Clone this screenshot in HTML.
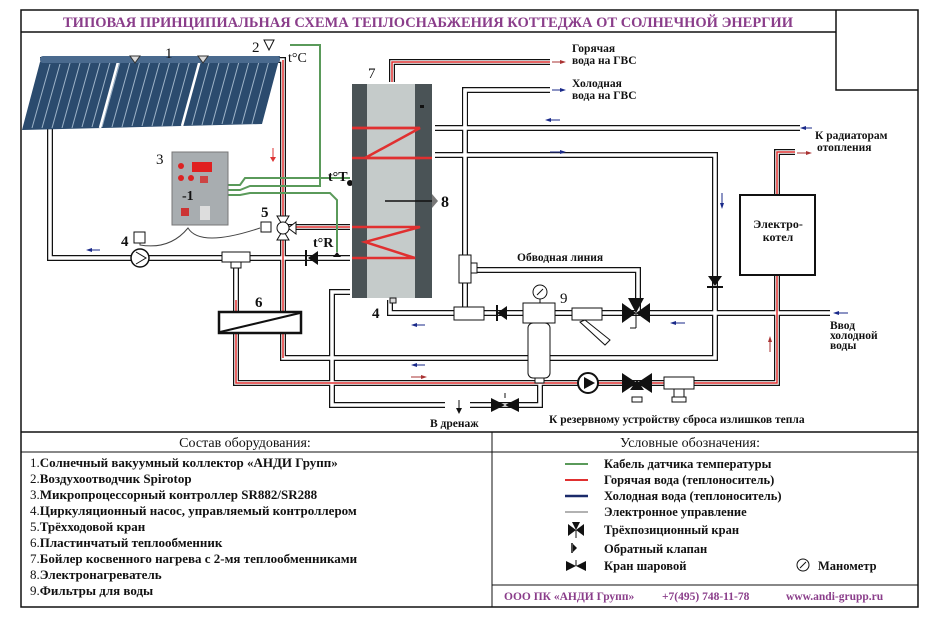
<!DOCTYPE html>
<html><head><meta charset="utf-8"><style>
body{margin:0;background:#fff}
svg{display:block}
text{font-family:"Liberation Serif",serif;fill:#111}
.po{fill:none;stroke:#111;stroke-width:6}
.pi{fill:none;stroke:#fff;stroke-width:3.5}
.ph{fill:none;stroke:#e03030;stroke-width:1.5}
.pc{fill:none;stroke:#1a2a8a;stroke-width:1}
.g{fill:none;stroke:#5a9a5a;stroke-width:2}
.b{font-weight:bold}
</style></head><body>
<svg width="933" height="620" viewBox="0 0 933 620" xmlns="http://www.w3.org/2000/svg">
<rect x="21" y="10" width="897" height="597" fill="none" stroke="#111" stroke-width="1.5"/>
<line x1="21" y1="32" x2="836" y2="32" stroke="#111" stroke-width="1.5"/>
<polyline points="836,10 836,90 918,90" fill="none" stroke="#111" stroke-width="1.5"/>
<text x="428" y="27" text-anchor="middle" font-size="14.5" font-weight="bold" style="fill:#8a3d8a" textLength="730" lengthAdjust="spacingAndGlyphs">ТИПОВАЯ ПРИНЦИПИАЛЬНАЯ СХЕМА ТЕПЛОСНАБЖЕНИЯ КОТТЕДЖА ОТ СОЛНЕЧНОЙ ЭНЕРГИИ</text>

<!-- pipes outer -->
<g class="po">
<polyline points="40,60 50,60 50,258 350,258"/>
<polyline points="270,60 283,60 283,358 715,358 715,155 435,155"/>
<polyline points="236,258 236,383 777,383 777,275"/>
<polyline points="777,195 777,152 795,152"/>
<polyline points="283,227 350,227"/>
<polyline points="392,82 392,62 550,62"/>
<polyline points="435,128 800,128"/>
<polyline points="465,128 465,90 550,90"/>
<polyline points="465,90 465,313 390,313 390,300"/>
<polyline points="465,270 638,270 638,313"/>
<polyline points="465,313 830,313"/>
<polyline points="350,292 332,292 332,405 445,405"/>
<polyline points="540,383 540,405 470,405"/>
</g>
<g class="pi">
<polyline points="40,60 50,60 50,258 350,258"/>
<polyline points="270,60 283,60 283,358 715,358 715,155 435,155"/>
<polyline points="236,258 236,383 777,383 777,275"/>
<polyline points="777,195 777,152 795,152"/>
<polyline points="283,227 350,227"/>
<polyline points="392,82 392,62 550,62"/>
<polyline points="435,128 800,128"/>
<polyline points="465,128 465,90 550,90"/>
<polyline points="465,90 465,313 390,313 390,300"/>
<polyline points="465,270 638,270 638,313"/>
<polyline points="465,313 830,313"/>
<polyline points="350,292 332,292 332,405 445,405"/>
<polyline points="540,383 540,405 470,405"/>
</g>
<g class="ph">
<polyline points="283,60 283,358"/>
<polyline points="236,300 236,383 777,383 777,275"/>
<polyline points="777,195 777,152 795,152"/>
<polyline points="283,227 350,227"/>
<polyline points="392,82 392,62 550,62"/>
</g>

<!-- collector -->
<g>
<polygon points="40,62 280,56 262,124 22,130" fill="#2b4b6e"/>
<g stroke="#9db3c8" stroke-width="1">
<line x1="50" y1="64" x2="32" y2="128"/><line x1="60" y1="64" x2="42" y2="128"/><line x1="70" y1="63" x2="52" y2="128"/><line x1="80" y1="63" x2="62" y2="128"/><line x1="90" y1="63" x2="72" y2="128"/><line x1="100" y1="63" x2="82" y2="127"/><line x1="110" y1="62" x2="92" y2="127"/><line x1="120" y1="62" x2="102" y2="127"/><line x1="130" y1="62" x2="112" y2="127"/><line x1="140" y1="61" x2="122" y2="127"/><line x1="150" y1="61" x2="132" y2="126"/><line x1="160" y1="61" x2="142" y2="126"/><line x1="170" y1="61" x2="152" y2="126"/><line x1="180" y1="60" x2="162" y2="126"/><line x1="190" y1="60" x2="172" y2="126"/><line x1="200" y1="60" x2="182" y2="125"/><line x1="210" y1="59" x2="192" y2="125"/><line x1="220" y1="59" x2="202" y2="125"/><line x1="230" y1="59" x2="212" y2="125"/><line x1="240" y1="58" x2="222" y2="124"/><line x1="250" y1="58" x2="232" y2="124"/><line x1="260" y1="58" x2="242" y2="124"/><line x1="270" y1="57" x2="252" y2="124"/>
</g>
<line x1="118" y1="62" x2="100" y2="128" stroke="#fff" stroke-width="2.5"/>
<line x1="200" y1="60" x2="182" y2="126" stroke="#fff" stroke-width="2.5"/>
<rect x="40" y="56" width="240" height="7" rx="3" fill="#4a6a8e"/>
<polygon points="130,56 140,56 135,63" fill="#ddd" stroke="#333"/>
<polygon points="198,56 208,56 203,63" fill="#ddd" stroke="#333"/>
</g>
<text x="165" y="58" font-size="15">1</text>
<text x="252" y="52" font-size="15">2</text>
<polygon points="264,40 274,40 269,50" fill="#fff" stroke="#111"/>
<text x="288" y="62" font-size="14">t°C</text>

<!-- green cables -->
<polyline class="g" points="228,185 240,185 245,178 350,178"/>
<polyline class="g" points="228,190 240,190 250,186 320,186 320,45 290,45"/>
<polyline class="g" points="228,195 240,195 250,193 330,193 337,200 337,252"/>

<!-- controller -->
<rect x="172" y="152" width="56" height="73" fill="#a8adb0" stroke="#777"/>
<rect x="192" y="162" width="20" height="10" fill="#e02020"/>
<circle cx="181" cy="166" r="3" fill="#d22"/><circle cx="181" cy="178" r="3" fill="#d22"/><circle cx="191" cy="178" r="3" fill="#d22"/>
<rect x="200" y="176" width="8" height="7" fill="#c44"/>
<text x="182" y="200" font-size="14" font-weight="bold">-1</text>
<rect x="181" y="208" width="8" height="8" fill="#c33"/>
<rect x="200" y="206" width="10" height="14" fill="#ddd"/>
<text x="156" y="164" font-size="15">3</text>
<path d="M140,236 L140,245 Q170,250 188,228 Q200,248 260,228" fill="none" stroke="#444"/>
<rect x="134" y="232" width="11" height="11" fill="#fff" stroke="#111"/>
<text x="121" y="246" font-size="15" class="b">4</text>
<circle cx="140" cy="258" r="9" fill="#fff" stroke="#111" stroke-width="1.5"/>
<polyline points="136,252 146,258 136,264" fill="none" stroke="#111"/>
<path d="M90,250 L100,250" stroke="#1a2a8a"/><polygon points="86,250 92,248 92,252" fill="#1a2a8a"/>

<!-- valve 5 -->
<rect x="261" y="222" width="10" height="10" fill="#fff" stroke="#111"/>
<polygon points="277,216 289,216 283,226" fill="#fff" stroke="#111"/>
<polygon points="277,240 289,240 283,230" fill="#fff" stroke="#111"/>
<polygon points="296,222 296,234 288,228" fill="#fff" stroke="#111"/>
<circle cx="283" cy="228" r="6" fill="#fff" stroke="#111"/>
<text x="261" y="217" font-size="15" class="b">5</text>
<line x1="273" y1="148" x2="273" y2="158" stroke="#d33"/><polygon points="270,157 276,157 273,162" fill="#d33"/>

<!-- T and exchanger -->
<rect x="222" y="252" width="28" height="10" fill="#fff" stroke="#111"/>
<rect x="231" y="262" width="10" height="6" fill="#fff" stroke="#111"/>
<polygon points="308,258 318,251 318,265" fill="#111"/><line x1="306" y1="250" x2="306" y2="266" stroke="#111" stroke-width="2"/>
<rect x="219" y="312" width="82" height="21" fill="#fff" stroke="#111" stroke-width="2.5"/>
<line x1="220" y1="332" x2="300" y2="313" stroke="#111" stroke-width="2"/>
<text x="255" y="307" font-size="15" class="b">6</text>
<text x="328" y="181" font-size="14" class="b">t°T</text>
<circle cx="350" cy="183" r="3" fill="#111"/>
<text x="313" y="247" font-size="14" class="b">t°R</text>
<polygon points="337,252 333,257 341,257" fill="#111"/>

<!-- tank -->
<rect x="352" y="84" width="80" height="214" fill="#b8bcbc"/>
<rect x="352" y="84" width="15" height="214" fill="#4a5356"/>
<rect x="415" y="84" width="17" height="214" fill="#4a5356"/>
<rect x="367" y="84" width="48" height="214" fill="#c5cbca"/>
<rect x="420" y="105" width="4" height="3" fill="#111"/>
<polyline points="352,128 420,128 365,158 420,158" fill="none" stroke="#e03030" stroke-width="2.5"/>
<polyline points="420,128 352,128" fill="none" stroke="#e03030" stroke-width="2.5"/>
<line x1="352" y1="158" x2="432" y2="158" stroke="#e03030" stroke-width="2.5"/>
<polyline points="352,227 420,227 365,242 415,258 352,258" fill="none" stroke="#e03030" stroke-width="2.5"/>
<line x1="385" y1="201" x2="432" y2="201" stroke="#111" stroke-width="1.5"/>
<polygon points="432,194 438,201 432,208" fill="#777"/>
<text x="441" y="207" font-size="16" class="b">8</text>
<text x="368" y="78" font-size="15">7</text>
<text x="372" y="318" font-size="15" class="b">4</text>
<rect x="390" y="298" width="6" height="5" fill="#ddd" stroke="#111"/>

<text x="572" y="52" font-size="11.5" class="b">Горячая</text>
<text x="572" y="64" font-size="11.5" class="b">вода на ГВС</text>
<line x1="552" y1="62" x2="562" y2="62" stroke="#a33"/><polygon points="566,62 560,60 560,64" fill="#a33"/>
<text x="572" y="87" font-size="11.5" class="b">Холодная</text>
<text x="572" y="99" font-size="11.5" class="b">вода на ГВС</text>
<line x1="552" y1="90" x2="562" y2="90" stroke="#1a2a8a"/><polygon points="566,90 560,88 560,92" fill="#1a2a8a"/>
<text x="815" y="139" font-size="11.5" class="b">К радиаторам</text>
<text x="817" y="151" font-size="11.5" class="b">отопления</text>
<line x1="802" y1="128" x2="812" y2="128" stroke="#1a2a8a"/><polygon points="800,128 806,126 806,130" fill="#1a2a8a"/>
<line x1="797" y1="153" x2="808" y2="153" stroke="#a33"/><polygon points="812,153 806,151 806,155" fill="#a33"/>
<line x1="548" y1="120" x2="560" y2="120" stroke="#1a2a8a"/><polygon points="545,120 551,118 551,122" fill="#1a2a8a"/>
<line x1="550" y1="152" x2="562" y2="152" stroke="#1a2a8a"/><polygon points="566,152 560,150 560,154" fill="#1a2a8a"/>
<line x1="722" y1="193" x2="722" y2="205" stroke="#1a2a8a"/><polygon points="722,209 720,203 724,203" fill="#1a2a8a"/>

<!-- electro boiler -->
<rect x="740" y="195" width="75" height="80" fill="#fff" stroke="#111" stroke-width="2"/>
<text x="778" y="228" font-size="12" class="b" text-anchor="middle">Электро-</text>
<text x="778" y="241" font-size="12" class="b" text-anchor="middle">котел</text>
<line x1="770" y1="340" x2="770" y2="352" stroke="#a33"/><polygon points="770,336 768,342 772,342" fill="#a33"/>

<!-- right side line details -->
<polygon points="708,276 722,276 715,286" fill="#111"/><line x1="707" y1="287" x2="723" y2="287" stroke="#111" stroke-width="2"/>
<text x="517" y="261" font-size="11.5" class="b">Обводная линия</text>
<rect x="459" y="255" width="12" height="28" fill="#fff" stroke="#111"/>
<rect x="471" y="263" width="6" height="10" fill="#fff" stroke="#111"/>
<rect x="454" y="307" width="30" height="13" fill="#fff" stroke="#111"/>
<polygon points="497,313 507,306 507,320" fill="#111"/><line x1="497" y1="305" x2="497" y2="321" stroke="#111" stroke-width="2"/>
<rect x="523" y="303" width="32" height="20" fill="#fff" stroke="#111"/>
<rect x="528" y="323" width="22" height="55" rx="5" fill="#fff" stroke="#111"/>
<rect x="535" y="378" width="9" height="5" fill="#fff" stroke="#111"/>
<circle cx="540" cy="292" r="7" fill="#fff" stroke="#111"/><line x1="537" y1="295" x2="543" y2="289" stroke="#111"/>
<line x1="540" y1="299" x2="540" y2="303" stroke="#111"/>
<text x="560" y="303" font-size="15">9</text>
<rect x="572" y="308" width="30" height="12" fill="#fff" stroke="#111"/>
<polygon points="585,320 610,340 605,345 580,322" fill="#fff" stroke="#111"/>
<polygon points="622,303 636,313 622,323" fill="#111"/><polygon points="650,303 636,313 650,323" fill="#111"/>
<polygon points="628,298 644,298 636,313" fill="#111"/>
<line x1="636" y1="313" x2="636" y2="328" stroke="#111"/><line x1="630" y1="328" x2="636" y2="328" stroke="#111"/>
<line x1="675" y1="323" x2="685" y2="323" stroke="#1a2a8a"/><polygon points="670,323 676,321 676,325" fill="#1a2a8a"/>
<line x1="838" y1="313" x2="848" y2="313" stroke="#1a2a8a"/><polygon points="833,313 839,311 839,315" fill="#1a2a8a"/>
<text x="830" y="329" font-size="11.5" class="b">Ввод</text>
<text x="830" y="339" font-size="11.5" class="b">холодной</text>
<text x="830" y="349" font-size="11.5" class="b">воды</text>
<line x1="415" y1="325" x2="425" y2="325" stroke="#1a2a8a"/><polygon points="411,325 417,323 417,327" fill="#1a2a8a"/>
<line x1="415" y1="365" x2="425" y2="365" stroke="#1a2a8a"/><polygon points="411,365 417,363 417,367" fill="#1a2a8a"/>
<line x1="411" y1="377" x2="423" y2="377" stroke="#a33"/><polygon points="427,377 421,375 421,379" fill="#a33"/>

<!-- bottom line devices -->
<circle cx="588" cy="383" r="10" fill="#fff" stroke="#111" stroke-width="2"/>
<polygon points="584,377 595,383 584,389" fill="#111"/>
<polygon points="622,373 637,383 622,393" fill="#111"/><polygon points="652,373 637,383 652,393" fill="#111"/>
<polygon points="630,390 644,390 637,380" fill="#111"/><rect x="632" y="397" width="10" height="5" fill="#fff" stroke="#111"/>
<rect x="664" y="377" width="30" height="12" fill="#fff" stroke="#111"/>
<rect x="674" y="389" width="10" height="8" fill="#fff" stroke="#111"/><rect x="672" y="397" width="14" height="5" fill="#fff" stroke="#111"/>
<polygon points="491,398 505,405 491,412" fill="#111"/><polygon points="519,398 505,405 519,412" fill="#111"/>
<line x1="505" y1="398" x2="505" y2="393" stroke="#111"/>
<line x1="459" y1="400" x2="459" y2="410" stroke="#111"/><polygon points="459,414 456,408 462,408" fill="#111"/>
<text x="430" y="427" font-size="11.5" class="b">В дренаж</text>
<text x="549" y="423" font-size="11.5" class="b">К резервному устройству сброса  излишков тепла</text>

<!-- tables -->
<line x1="21" y1="432" x2="918" y2="432" stroke="#111" stroke-width="1.5"/>
<line x1="21" y1="452" x2="918" y2="452" stroke="#111" stroke-width="1"/>
<line x1="492" y1="432" x2="492" y2="607" stroke="#111" stroke-width="1"/>
<line x1="492" y1="585" x2="918" y2="585" stroke="#111" stroke-width="1"/>
<text x="245" y="447" font-size="14" text-anchor="middle">Состав оборудования:</text>
<text x="690" y="447" font-size="14" text-anchor="middle">Условные обозначения:</text>
<g font-size="13">
<text x="30" y="467">1.<tspan class="b">Солнечный вакуумный коллектор «АНДИ Групп»</tspan></text>
<text x="30" y="483">2.<tspan class="b">Воздухоотводчик Spirotop</tspan></text>
<text x="30" y="499">3.<tspan class="b">Микропроцессорный контроллер SR882/SR288</tspan></text>
<text x="30" y="515">4.<tspan class="b">Циркуляционный насос, управляемый   контроллером</tspan></text>
<text x="30" y="531">5.<tspan class="b">Трёхходовой кран</tspan></text>
<text x="30" y="547">6.<tspan class="b">Пластинчатый теплообменник</tspan></text>
<text x="30" y="563">7.<tspan class="b">Бойлер косвенного нагрева с 2-мя теплообменниками</tspan></text>
<text x="30" y="579">8.<tspan class="b">Электронагреватель</tspan></text>
<text x="30" y="595">9.<tspan class="b">Фильтры для воды</tspan></text>
</g>
<line x1="565" y1="464" x2="588" y2="464" stroke="#5a9a5a" stroke-width="2"/>
<line x1="565" y1="480" x2="588" y2="480" stroke="#e03030" stroke-width="2"/>
<line x1="565" y1="496" x2="588" y2="496" stroke="#1a2a6a" stroke-width="2.5"/>
<line x1="565" y1="512" x2="588" y2="512" stroke="#666" stroke-width="1"/>
<polygon points="568,524 576,530 568,536" fill="#111"/><polygon points="584,524 576,530 584,536" fill="#111"/><polygon points="572,522 580,522 576,530" fill="#111"/><line x1="576" y1="530" x2="576" y2="538" stroke="#111"/>
<polygon points="573,544 577,548 573,552" fill="#111"/><line x1="572" y1="543" x2="572" y2="553" stroke="#111" stroke-width="1.5"/>
<polygon points="566,561 576,566 566,571" fill="#111"/><polygon points="586,561 576,566 586,571" fill="#111"/><line x1="576" y1="566" x2="576" y2="560" stroke="#111"/>
<g font-size="12.5" class="b">
<text x="604" y="468">Кабель датчика температуры</text>
<text x="604" y="484">Горячая вода (теплоноситель)</text>
<text x="604" y="500">Холодная вода (теплоноситель)</text>
<text x="604" y="516">Электронное управление</text>
<text x="604" y="534">Трёхпозиционный кран</text>
<text x="604" y="553">Обратный клапан</text>
<text x="604" y="570">Кран шаровой</text>
<text x="818" y="570">Манометр</text>
</g>
<circle cx="803" cy="565" r="6" fill="#fff" stroke="#111"/><line x1="800" y1="568" x2="806" y2="562" stroke="#111"/>
<g font-size="11.5" class="b" style="fill:#8a3d8a">
<text x="504" y="600" style="fill:#8a3d8a">ООО ПК «АНДИ Групп»</text>
<text x="662" y="600" style="fill:#8a3d8a">+7(495) 748-11-78</text>
<text x="786" y="600" style="fill:#8a3d8a">www.andi-grupp.ru</text>
</g>
</svg>
</body></html>
